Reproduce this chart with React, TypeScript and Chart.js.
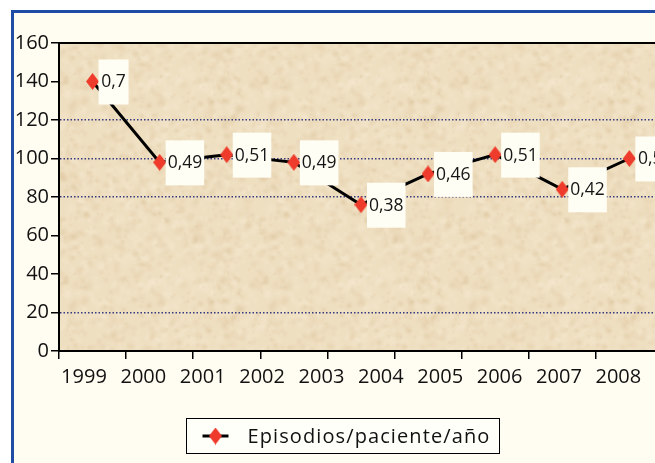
import React, { useEffect, useRef } from "react";
import { Chart, registerables } from "chart.js";

Chart.register(...registerables);

// ---- data ----
const years = ["1999", "2000", "2001", "2002", "2003", "2004", "2005", "2006", "2007", "2008"];
const rates = [0.7, 0.49, 0.51, 0.49, 0.38, 0.46, 0.51, 0.42, 0.5];
const plotted = [140, 98, 102, 98, 76, 92, 102, 84, 100];
const yMin = 0;
const yMax = 160;
const yStep = 20;
const dottedGridValues = [20, 80, 100, 120];
const seriesName = "Episodios/paciente/año";

const FONT = "'Open Sans', 'Noto Sans', sans-serif";
const RED = "#EE3B2B";
const CREAM = "#FFFDF1";

function makeMarker(): HTMLCanvasElement {
  const m = document.createElement("canvas");
  m.width = 13;
  m.height = 17;
  const c = m.getContext("2d")!;
  c.fillStyle = RED;
  c.beginPath();
  c.moveTo(6.5, 0);
  c.lineTo(13, 8.5);
  c.lineTo(6.5, 17);
  c.lineTo(0, 8.5);
  c.closePath();
  c.fill();
  return m;
}

// decorative parchment texture (deterministic, purely visual)
function makeTexture(): HTMLCanvasElement {
  const N = 200;
  const t = document.createElement("canvas");
  t.width = N;
  t.height = N;
  const c = t.getContext("2d")!;
  c.fillStyle = "#EFDFC1";
  c.fillRect(0, 0, N, N);
  let s = 98765;
  const next = () => {
    s = (s * 1103515245 + 12345) & 0x7fffffff;
    return s / 0x7fffffff;
  };
  for (let i = 0; i < 1400; i++) {
    const x = next() * N;
    const y = next() * N;
    const r = 1.5 + next() * 5;
    const dark = next() < 0.5;
    const g = c.createRadialGradient(x, y, 0, x, y, r);
    const col = dark ? "rgba(205,175,128," : "rgba(252,244,226,";
    g.addColorStop(0, col + "0.16)");
    g.addColorStop(1, col + "0)");
    c.fillStyle = g;
    for (const dx of [-N, 0, N]) {
      for (const dy of [-N, 0, N]) {
        c.save();
        c.translate(dx, dy);
        c.beginPath();
        c.arc(x, y, r, 0, Math.PI * 2);
        c.fill();
        c.restore();
      }
    }
  }
  return t;
}

export default function App() {
  const ref = useRef<HTMLCanvasElement>(null);

  useEffect(() => {
    const canvas = ref.current!;
    const marker = makeMarker();
    const texture = makeTexture();

    const plotBg = {
      id: "plotBg",
      beforeDraw(chart: any) {
        const { ctx, chartArea: a } = chart;
        ctx.save();
        const pat = ctx.createPattern(texture, "repeat");
        ctx.fillStyle = pat || "#EFDFC1";
        ctx.fillRect(a.left, a.top, a.right - a.left, a.bottom - a.top);
        ctx.restore();
      },
    };

    const frame = {
      id: "frame",
      beforeDatasetsDraw(chart: any) {
        const { ctx, chartArea: a } = chart;
        ctx.save();
        ctx.strokeStyle = "#000";
        ctx.lineWidth = 2;
        ctx.beginPath();
        ctx.moveTo(a.left - 1, a.top);
        ctx.lineTo(a.right, a.top);
        ctx.lineTo(a.right, a.bottom);
        ctx.stroke();
        ctx.restore();
      },
    };

    const valueLabels = {
      id: "valueLabels",
      afterDatasetsDraw(chart: any) {
        const { ctx } = chart;
        const meta = chart.getDatasetMeta(0);
        ctx.save();
        ctx.font = `17.5px ${FONT}`;
        ctx.textBaseline = "middle";
        ctx.textAlign = "center";
        meta.data.forEach((pt: any, i: number) => {
          const txt = String(rates[i]).replace(".", ",");
          const tw = ctx.measureText(txt).width;
          const w = Math.max(30, tw + 4);
          const left = pt.x + 6;
          const top = pt.y - 22;
          ctx.fillStyle = "#FFFEF4";
          ctx.fillRect(left, top, w, 45);
          ctx.fillStyle = "#151515";
          ctx.fillText(txt, left + w / 2, pt.y + 1);
        });
        ctx.restore();
      },
    };

    const legendBox = {
      id: "legendBox",
      afterDraw(chart: any) {
        const { ctx } = chart;
        const ds = chart.data.datasets[0];
        const bx = 172.5, by = 405.5, bw = 313, bh = 35;
        ctx.save();
        ctx.fillStyle = "#FFFFFA";
        ctx.fillRect(bx, by, bw, bh);
        ctx.strokeStyle = "#000";
        ctx.lineWidth = 1;
        ctx.strokeRect(bx, by, bw, bh);
        const cy = by + bh / 2;
        ctx.strokeStyle = ds.borderColor;
        ctx.lineWidth = 3;
        ctx.beginPath();
        ctx.moveTo(bx + 16, cy);
        ctx.lineTo(bx + 42, cy);
        ctx.stroke();
        ctx.drawImage(marker, bx + 29 - marker.width / 2, cy - marker.height / 2);
        ctx.fillStyle = "#111";
        ctx.font = `20px ${FONT}`;
        (ctx as any).letterSpacing = "1.1px";
        ctx.textBaseline = "middle";
        ctx.textAlign = "left";
        ctx.fillText(ds.label, bx + 61, cy + 1);
        ctx.restore();
      },
    };

    const chart = new Chart(canvas, {
      type: "line",
      data: {
        labels: years,
        datasets: [
          {
            label: seriesName,
            data: plotted,
            borderColor: "#000",
            borderWidth: 3,
            tension: 0,
            pointStyle: marker as any,
            pointRadius: 7,
            pointHoverRadius: 7,
            xAxisID: "x",
            yAxisID: "y",
          },
        ],
      },
      options: {
        responsive: false,
        animation: false,
        devicePixelRatio: 1,
        layout: { padding: { top: 30, right: 24, bottom: 59, left: 0 } },
        plugins: {
          legend: { display: false },
          tooltip: { enabled: false },
        },
        scales: {
          x: {
            type: "category",
            position: "bottom",
            offset: true,
            weight: 0,
            grid: {
              offset: true,
              drawOnChartArea: false,
              color: "#000",
              tickLength: 8,
              lineWidth: 1.5,
            },
            border: { color: "#000", width: 2 },
            ticks: { display: false },
            afterFit: (s: any) => {
              s.height = 8;
            },
          },
          xl: {
            type: "linear",
            position: "bottom",
            weight: 1,
            min: -0.42,
            max: 10.88,
            grid: { display: false },
            border: { display: false },
            ticks: {
              stepSize: 1,
              includeBounds: false,
              autoSkip: false,
              maxRotation: 0,
              padding: -2,
              color: "#111",
              font: { family: FONT, size: 20 },
              callback: (v: any) => (Number.isInteger(v) && years[v] ? years[v] : ""),
            },
            afterFit: (s: any) => {
              s.height = 45;
            },
          },
          y: {
            type: "linear",
            min: yMin,
            max: yMax,
            ticks: {
              stepSize: yStep,
              padding: 2,
              color: "#111",
              font: { family: FONT, size: 20 },
            },
            grid: {
              color: (c: any) =>
                dottedGridValues.includes(c.tick?.value) ? "#353A80" : "rgba(0,0,0,0)",
              tickColor: "#000",
              tickLength: 8,
              lineWidth: 1.5,
              tickWidth: 1.5,
            },
            border: { color: "#000", width: 2, dash: [1.5, 2] },
            afterFit: (s: any) => {
              s.width = 45;
            },
          },
        },
      },
      plugins: [plotBg, frame, valueLabels, legendBox],
    } as any);

    return () => chart.destroy();
  }, []);

  return (
    <div
      style={{
        position: "fixed",
        left: 0,
        top: 0,
        width: 655,
        height: 463,
        overflow: "hidden",
        background: "#FFFFFF",
      }}
    >
      <div
        style={{
          position: "absolute",
          left: 11,
          top: 10,
          width: 800,
          height: 520,
          border: "3px solid #1F4DA6",
          background: CREAM,
        }}
      >
        <canvas
          ref={ref}
          width={740}
          height={450}
          style={{ position: "absolute", left: 0, top: 0, width: 740, height: 450 }}
        />
      </div>
    </div>
  );
}
